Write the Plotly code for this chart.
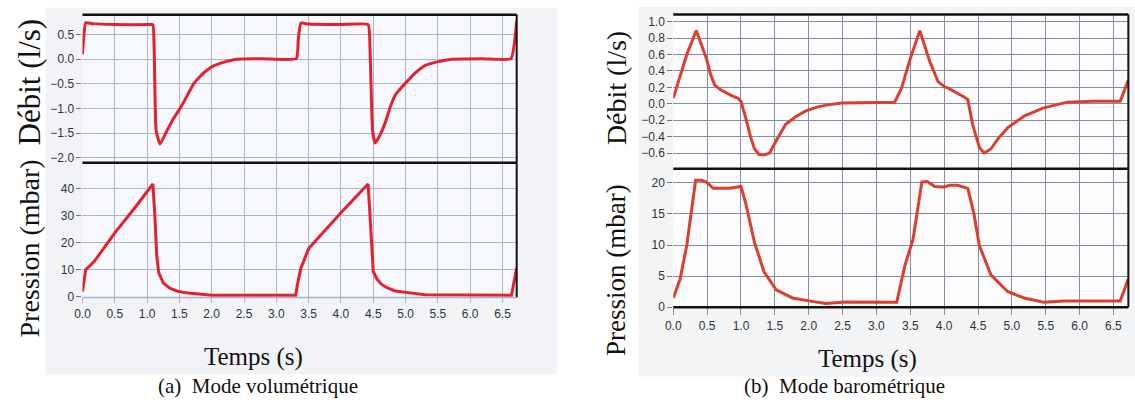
import plotly.graph_objects as go

W, H = 1135, 405

# ---- (a) Mode volumétrique ----
t_flow_a = [0.0, 0.02, 0.05, 0.15, 0.5, 1.05, 1.09, 1.11, 1.14, 1.2, 1.3, 1.4, 1.51,
            1.62, 1.72, 1.82, 1.92, 2.02, 2.12, 2.25, 2.38, 2.8, 3.31, 3.34, 3.38, 3.5,
            4.0, 4.42, 4.45, 4.49, 4.53, 4.6, 4.69, 4.76, 4.84, 4.94, 5.04, 5.15, 5.3,
            5.5, 5.71, 6.2, 6.63, 6.72]
flow_a = [0.1, 0.45, 0.74, 0.72, 0.7, 0.7, 0.7, 0.2, -1.45, -1.72, -1.47, -1.22, -1.0,
          -0.74, -0.5, -0.35, -0.23, -0.14, -0.09, -0.04, 0.0, 0.01, 0.01, 0.4, 0.73,
          0.71, 0.7, 0.7, 0.2, -1.45, -1.7, -1.55, -1.27, -0.98, -0.73, -0.57, -0.43,
          -0.28, -0.13, -0.05, 0.0, 0.01, 0.01, 0.77]

t_pres_a = [0.0, 0.02, 0.05, 0.18, 0.5, 0.79, 1.0, 1.09, 1.12, 1.15, 1.18, 1.25, 1.35,
            1.46, 1.6, 1.77, 2.0, 3.3, 3.33, 3.38, 3.5, 4.0, 4.42, 4.45, 4.48, 4.5,
            4.56, 4.63, 4.73, 4.84, 5.1, 5.3, 6.64, 6.72]
pres_a = [2.0, 6.0, 10.0, 13.0, 23.6, 32.2, 38.5, 41.6, 30.0, 15.0, 9.0, 5.2, 3.2,
          2.2, 1.5, 1.0, 0.6, 0.6, 5.0, 10.6, 17.8, 31.0, 41.6, 30.0, 15.0, 9.4,
          6.5, 4.6, 3.2, 2.2, 1.4, 0.8, 0.6, 10.7]

# ---- (b) Mode barométrique ----
t_flow_b = [0.0, 0.1, 0.2, 0.34, 0.42, 0.49, 0.55, 0.61, 0.7, 0.78, 0.86, 0.95, 1.0,
            1.07, 1.14, 1.2, 1.27, 1.35, 1.42, 1.54, 1.66, 1.8, 1.95, 2.12, 2.3, 2.49,
            3.0, 3.27, 3.37, 3.5, 3.64, 3.72, 3.79, 3.91, 4.0, 4.06, 4.2, 4.3, 4.35,
            4.42, 4.52, 4.59, 4.69, 4.8, 4.94, 5.18, 5.47, 5.82, 6.2, 6.6, 6.72]
flow_b = [0.07, 0.35, 0.6, 0.89, 0.72, 0.55, 0.36, 0.23, 0.17, 0.13, 0.1, 0.07, 0.03,
          -0.17, -0.4, -0.55, -0.62, -0.62, -0.6, -0.42, -0.25, -0.16, -0.09, -0.04,
          -0.01, 0.01, 0.02, 0.02, 0.19, 0.55, 0.89, 0.7, 0.51, 0.27, 0.21, 0.19, 0.13,
          0.08, 0.05, -0.25, -0.53, -0.6, -0.55, -0.42, -0.29, -0.15, -0.05, 0.02,
          0.03, 0.03, 0.29]

t_pres_b = [0.0, 0.1, 0.2, 0.33, 0.42, 0.49, 0.59, 0.83, 1.0, 1.07, 1.2, 1.34, 1.52,
            1.76, 2.05, 2.25, 2.54, 3.3, 3.42, 3.54, 3.67, 3.75, 3.86, 4.0, 4.08, 4.2,
            4.35, 4.44, 4.52, 4.69, 4.94, 5.18, 5.47, 5.77, 6.6, 6.72]
pres_b = [1.5, 4.5, 10.0, 20.4, 20.4, 20.1, 19.1, 19.1, 19.4, 16.7, 10.4, 5.7, 2.8,
          1.5, 0.95, 0.6, 0.85, 0.8, 6.7, 10.9, 20.1, 20.2, 19.4, 19.3, 19.6, 19.6,
          19.1, 15.0, 9.9, 5.2, 2.5, 1.5, 0.8, 1.0, 1.0, 4.6]

flow_ticks_a = [-2.0, -1.5, -1.0, -0.5, 0.0, 0.5]
pres_ticks_a = [0, 10, 20, 30, 40]
flow_ticks_b = [-0.6, -0.4, -0.2, 0.0, 0.2, 0.4, 0.6, 0.8, 1.0]
pres_ticks_b = [0, 5, 10, 15, 20]
time_ticks = [0.0, 0.5, 1.0, 1.5, 2.0, 2.5, 3.0, 3.5, 4.0, 4.5, 5.0, 5.5, 6.0, 6.5]


def px(x):
    return x / W


def py(y):
    return 1 - y / H


RED_A = "#e2222e"
RED_B = "#d9402f"

fig = go.Figure()
fig.add_trace(go.Scatter(x=t_flow_a, y=flow_a, mode="lines",
                         line=dict(color=RED_A, width=3, shape="spline", smoothing=0.4),
                         xaxis="x", yaxis="y"))
fig.add_trace(go.Scatter(x=t_pres_a, y=pres_a, mode="lines",
                         line=dict(color=RED_A, width=3), xaxis="x2", yaxis="y2"))
fig.add_trace(go.Scatter(x=t_flow_b, y=flow_b, mode="lines",
                         line=dict(color=RED_B, width=3), xaxis="x3", yaxis="y3"))
fig.add_trace(go.Scatter(x=t_pres_b, y=pres_b, mode="lines",
                         line=dict(color=RED_B, width=3), xaxis="x4", yaxis="y4"))

tick_font = dict(family="Liberation Sans, Arial", size=12, color="#333333")
GRID_A = "#aeb5c8"
GRID_B = "#858ea3"

xa_dom = [px(75), px(512.3)]
xb_dom = [px(670), px(1128.3)]


def xaxis(dom, anchor, labels, grid, gw, tlen):
    return dict(domain=dom, anchor=anchor, range=[0, 6.72], tickvals=time_ticks,
                tickformat=".1f", showticklabels=labels, ticks="outside" if labels else "",
                ticklen=tlen, tickcolor=grid, showgrid=True, gridcolor=grid,
                gridwidth=gw, zeroline=False, showline=False, tickfont=tick_font,
                fixedrange=True)


def yaxis(dom, anchor, rng, vals, fmt, grid, gw):
    return dict(domain=dom, anchor=anchor, range=rng, tickvals=vals, tickformat=fmt,
                ticks="outside", ticklen=5, tickcolor="#777777", showgrid=True,
                gridcolor=grid, gridwidth=gw, zeroline=False, showline=False,
                tickfont=tick_font, fixedrange=True)


fig.update_layout(
    width=W, height=H, margin=dict(l=0, r=0, t=0, b=0),
    paper_bgcolor="white", plot_bgcolor="rgba(0,0,0,0)", showlegend=False,
    xaxis=xaxis(xa_dom, "y", False, GRID_A, 1, 0),
    yaxis=yaxis([py(165.7), py(15)], "x", [-2.1, 0.9], flow_ticks_a, ".1f", GRID_A, 1),
    xaxis2=xaxis(xa_dom, "y2", True, GRID_A, 1, 5),
    yaxis2=yaxis([py(302.7), py(165.7)], "x2", [-0.2, 49.4], pres_ticks_a, "d", GRID_A, 1),
    xaxis3=xaxis(xb_dom, "y3", False, GRID_B, 1.4, 0),
    yaxis3=yaxis([py(171.7), py(14.7)], "x3", [-0.79, 1.087], flow_ticks_b, ".1f", GRID_B, 1.4),
    xaxis4=xaxis(xb_dom, "y4", True, GRID_B, 1.4, 7),
    yaxis4=yaxis([py(312.7), py(171.7)], "x4", [0, 22.25], pres_ticks_b, "d", GRID_B, 1.4),
)

shapes = [
    # panel backgrounds
    dict(type="rect", xref="paper", yref="paper", x0=px(38), x1=px(553), y0=py(381),
         y1=py(8), fillcolor="#f2f3f7", line_width=0, layer="below"),
    dict(type="rect", xref="paper", yref="paper", x0=px(635), x1=px(1135), y0=py(383),
         y1=py(7), fillcolor="#f3f4f6", line_width=0, layer="below"),
    dict(type="rect", xref="paper", yref="paper", x0=xa_dom[0], x1=xa_dom[1],
         y0=py(302.7), y1=py(15), fillcolor="#f7f8fb", line_width=0, layer="below"),
    dict(type="rect", xref="paper", yref="paper", x0=xb_dom[0], x1=xb_dom[1],
         y0=py(312.7), y1=py(14.7), fillcolor="#fcfcfd", line_width=0, layer="below"),
]

# frame lines of panel (a)
for yy in (15, 165.7):
    shapes.append(dict(type="line", xref="paper", yref="paper", x0=xa_dom[0], x1=xa_dom[1],
                       y0=py(yy), y1=py(yy), line=dict(color="#111111", width=2.5)))
shapes.append(dict(type="line", xref="paper", yref="paper", x0=xa_dom[1], x1=xa_dom[1],
                   y0=py(302.7), y1=py(15), line=dict(color="#111111", width=2)))
shapes.append(dict(type="line", xref="paper", yref="paper", x0=xa_dom[0], x1=xa_dom[1],
                   y0=py(302.7), y1=py(302.7), line=dict(color="#a9b4cc", width=1.5)))

# frame lines of panel (b)
for yy in (14.7, 171.7, 312.7):
    shapes.append(dict(type="line", xref="paper", yref="paper", x0=xb_dom[0], x1=xb_dom[1],
                       y0=py(yy), y1=py(yy), line=dict(color="#111111", width=2.5)))
shapes.append(dict(type="line", xref="paper", yref="paper", x0=xb_dom[1], x1=xb_dom[1],
                   y0=py(312.7), y1=py(14.7), line=dict(color="#111111", width=2)))

fig.update_layout(shapes=shapes)

serif = "Liberation Serif, Times New Roman, serif"
annotations = [
    dict(text="Débit (l/s)", x=px(22), y=py(83), textangle=-90, size=31),
    dict(text="Pression (mbar)", x=px(22), y=py(253), textangle=-90, size=28),
    dict(text="Débit (l/s)", x=px(613), y=py(90), textangle=-90, size=28),
    dict(text="Pression (mbar)", x=px(613), y=py(275), textangle=-90, size=27),
    dict(text="Temps (s)", x=px(247), y=py(363), textangle=0, size=25),
    dict(text="Temps (s)", x=px(866), y=py(365), textangle=0, size=25),
    dict(text="(a)  Mode volumétrique", x=px(252), y=py(393), textangle=0, size=21),
    dict(text="(b)  Mode barométrique", x=px(842), y=py(393), textangle=0, size=21),
]
fig.update_layout(annotations=[
    dict(text=a["text"], x=a["x"], y=a["y"], xref="paper", yref="paper",
         xanchor="center", yanchor="middle", showarrow=False, textangle=a["textangle"],
         font=dict(family=serif, size=a["size"], color="#111111"))
    for a in annotations
])

fig.write_html("out.html")
